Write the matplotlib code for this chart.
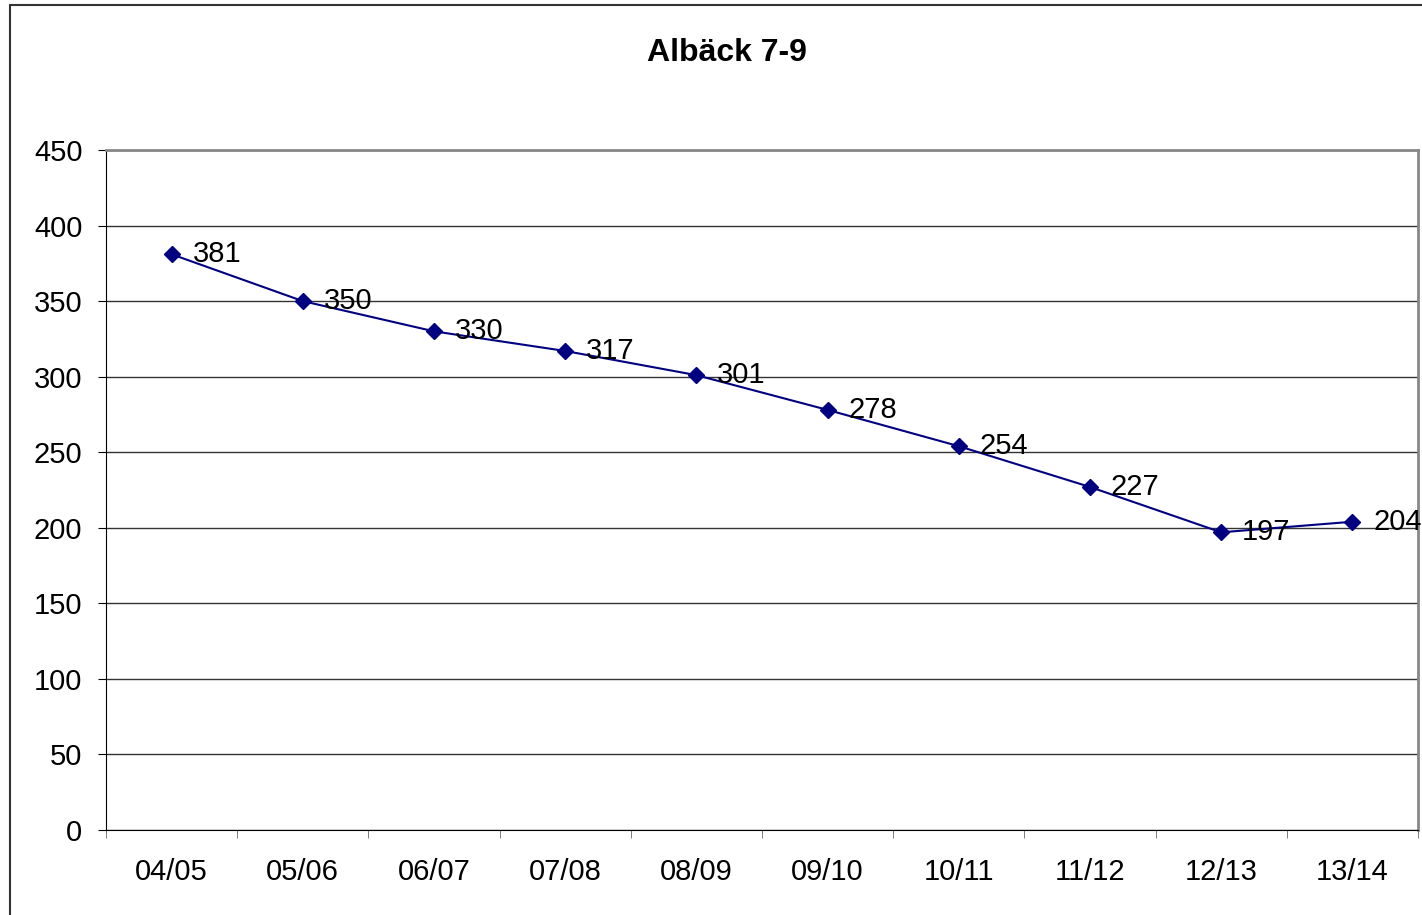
import matplotlib.pyplot as plt
from matplotlib.patches import Rectangle
import numpy as np

plt.rcParams['font.family'] = ['Liberation Sans', 'DejaVu Sans']

# Data
seasons = ["04/05", "05/06", "06/07", "07/08", "08/09", "09/10", "10/11", "11/12", "12/13", "13/14"]
counts = [381, 350, 330, 317, 301, 278, 254, 227, 197, 204]
y_ticks = [0, 50, 100, 150, 200, 250, 300, 350, 400, 450]

fig = plt.figure(figsize=(14.22, 9.15), dpi=100)
ax = fig.add_axes([106 / 1422, 85 / 915, 1312 / 1422, 680 / 915])

# outer chart border (left and top visible only)
fig.patches.append(Rectangle((10 / 1422, -0.1), 1.5, 1.1 - 5 / 915, transform=fig.transFigure,
                             fill=False, edgecolor='#333333', linewidth=1.5))

x = np.arange(len(seasons))
ax.plot(x, counts, color='#000080', linewidth=1.5, marker='D', markersize=8, zorder=3)

for xi, v in zip(x, counts):
    ax.annotate(str(v), (xi, v), xytext=(15, 0), textcoords='offset points',
                ha='left', va='center', fontsize=21, color='black', zorder=4,
                annotation_clip=False)

ax.set_xlim(-0.5, len(seasons) - 0.5)
ax.set_ylim(0, 450)
ax.set_yticks(y_ticks)
ax.set_yticklabels([str(t) for t in y_ticks], fontsize=21)
ax.set_xticks(x)
ax.set_xticklabels(seasons, fontsize=21)
ax.set_xticks(np.arange(-0.5, len(seasons), 1), minor=True)
ax.tick_params(axis='x', which='major', length=0, pad=20)
ax.tick_params(axis='x', which='minor', length=6, color='#666666', direction='out')
ax.tick_params(axis='y', length=6, color='black', direction='out', pad=11)

ax.yaxis.grid(True, color='#333333', linewidth=1)
ax.set_axisbelow(True)

ax.spines['left'].set_color('black')
ax.spines['bottom'].set_color('black')
ax.spines['top'].set_color('#888888')
ax.spines['right'].set_color('#888888')
ax.spines['top'].set_linewidth(2)
ax.spines['right'].set_linewidth(2)

fig.text(727 / 1422, 1 - 53 / 915, "Albäck 7-9", ha='center', va='center',
         fontsize=23, fontweight='bold')

plt.savefig("out.png", dpi=100)
